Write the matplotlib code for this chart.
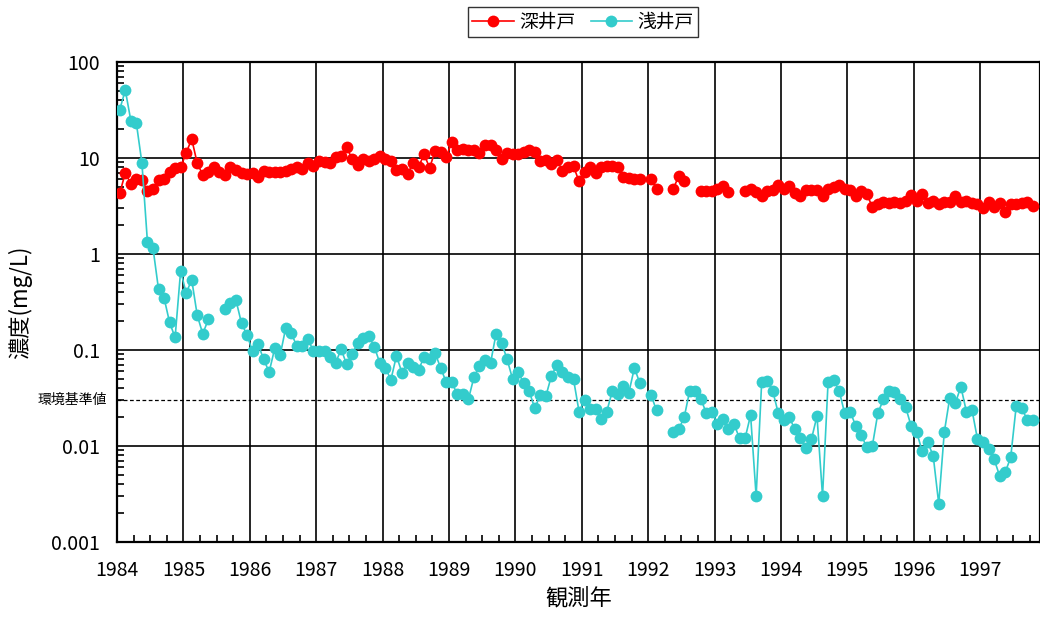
import numpy as np
import matplotlib
matplotlib.use("Agg")
import matplotlib.pyplot as plt
from matplotlib.ticker import FixedLocator, LogLocator, NullFormatter, FixedFormatter
import matplotlib.transforms as mtransforms

plt.rcParams['font.family'] = ['Noto Sans CJK JP', 'DejaVu Sans']

nan = np.nan
start_year = 1984  # monthly observations, mid-month

deep_well = [
    4.3, 7.0, 5.4, 6.1, 5.9, 4.5, 4.8, 5.9, 6.1, 7.2, 7.8, 8.0,
    11.3, 15.8, 8.8, 6.7, 7.2, 8.0, 7.2, 6.7, 8.0, 7.5, 6.9, 6.8,
    6.9, 6.4, 7.3, 7.1, 7.1, 7.1, 7.3, 7.6, 8.0, 7.6, 8.8, 8.3,
    9.3, 9.0, 8.8, 10.3, 10.5, 13.0, 9.7, 8.4, 9.7, 9.2, 9.7, 10.5,
    9.7, 9.2, 7.5, 7.7, 6.8, 8.8, 8.1, 10.9, 7.9, 11.9, 11.6, 10.3,
    14.6, 12.1, 12.4, 12.1, 12.1, 11.2, 13.6, 13.6, 12.1, 9.8, 11.2, 11.0,
    11.0, 11.6, 12.1, 11.6, 9.2, 9.5, 8.7, 9.5, 7.4, 8.1, 8.2, 5.7,
    7.2, 8.1, 6.9, 8.1, 8.2, 8.2, 8.0, 6.4, 6.2, 6.0, 6.0, nan,
    6.1, 4.8, nan, nan, 4.7, 6.5, 5.7, nan, nan, 4.5, 4.5, 4.5,
    4.8, 5.1, 4.4, nan, nan, 4.5, 4.8, 4.4, 4.0, 4.5, 4.6, 5.2,
    4.8, 5.1, 4.3, 4.0, 4.6, 4.6, 4.6, 4.0, 4.7, 5.0, 5.2, 4.8,
    4.6, 4.0, 4.5, 4.2, 3.1, 3.3, 3.5, 3.4, 3.5, 3.4, 3.6, 4.1,
    3.6, 4.2, 3.4, 3.6, 3.3, 3.5, 3.5, 4.0, 3.5, 3.6, 3.4, 3.3,
    3.0, 3.5, 3.1, 3.4, 2.75, 3.3, 3.3, 3.4, 3.5, 3.2,
]

shallow_well = [
    32, 51, 24.5, 23, 8.9, 1.34, 1.16, 0.43, 0.35, 0.194, 0.135, 0.67,
    0.39, 0.54, 0.23, 0.147, 0.209, nan, nan, 0.265, 0.306, 0.33, 0.19, 0.143,
    0.097, 0.115, 0.08, 0.059, 0.104, 0.089, 0.171, 0.149, 0.11, 0.11, 0.129, 0.098,
    0.097, 0.097, 0.085, 0.073, 0.102, 0.071, 0.09, 0.119, 0.132, 0.141, 0.108, 0.073,
    0.065, 0.049, 0.087, 0.058, 0.073, 0.066, 0.062, 0.085, 0.08, 0.092, 0.065, 0.046,
    0.046, 0.0346, 0.035, 0.0306, 0.052, 0.068, 0.079, 0.073, 0.147, 0.119, 0.08, 0.0496,
    0.059, 0.045, 0.037, 0.0247, 0.034, 0.033, 0.0536, 0.07, 0.059, 0.052, 0.0496, 0.0228,
    0.030, 0.024, 0.024, 0.019, 0.0228, 0.037, 0.035, 0.042, 0.036, 0.065, 0.045, nan,
    0.034, 0.0235, nan, nan, 0.014, 0.0149, 0.0199, 0.0377, 0.0377, 0.031, 0.022, 0.0228,
    0.017, 0.019, 0.0149, 0.017, 0.012, 0.012, 0.021, 0.003, 0.046, 0.048, 0.0377, 0.0219,
    0.0187, 0.0199, 0.0149, 0.012, 0.0095, 0.0118, 0.0205, 0.003, 0.046, 0.0487, 0.0377, 0.0219,
    0.0228, 0.0162, 0.013, 0.0097, 0.01, 0.022, 0.0306, 0.0377, 0.0368, 0.0306, 0.0257, 0.0162,
    0.014, 0.0089, 0.011, 0.0079, 0.0025, 0.0139, 0.032, 0.028, 0.0415, 0.0228, 0.0239, 0.0118,
    0.011, 0.0092, 0.0073, 0.0049, 0.0053, 0.0076, 0.026, 0.0248, 0.0187, 0.0187,
]

series_names = ['深井戸', '浅井戸']
year_ticks = list(range(1984, 1998))
y_ticks = [0.001, 0.01, 0.1, 1, 10, 100]
y_tick_labels = ['0.001', '0.01', '0.1', '1', '10', '100']
standard_value = 0.03
standard_label = '環境基準値'

dates_deep = start_year + (np.arange(len(deep_well)) + 0.5) / 12
dates_shallow = start_year + (np.arange(len(shallow_well)) + 0.5) / 12

fig = plt.figure(figsize=(10.4, 6.19), dpi=100)
ax = fig.add_axes([117 / 1040, 77 / 619, 923 / 1040, 480 / 619])

ax.set_yscale('log')
ax.set_ylim(0.001, 100)
ax.set_xlim(1984, 1997.9)

ax.grid(True, which='major', color='black', linewidth=1.2)
ax.set_axisbelow(True)

ax.plot(dates_deep, deep_well, color='#ff0000', marker='o', markersize=8.5,
        markeredgewidth=0, linewidth=1.2, label=series_names[0], zorder=3)
ax.plot(dates_shallow, shallow_well, color='#33cccc', marker='o', markersize=8.5,
        markeredgewidth=0, linewidth=1.2, label=series_names[1], zorder=3)

ax.axhline(standard_value, color='black', linestyle=(0, (3, 2)), linewidth=0.9, zorder=2)
trans = mtransforms.blended_transform_factory(ax.transAxes, ax.transData)
ax.text(-0.011, standard_value, standard_label, transform=trans, ha='right', va='center',
        fontsize=10)

ax.xaxis.set_major_locator(FixedLocator(year_ticks))
ax.xaxis.set_minor_locator(FixedLocator([y + q for y in year_ticks for q in (0.25, 0.5, 0.75)]))
ax.set_xticklabels([str(y) for y in year_ticks])
ax.yaxis.set_major_locator(FixedLocator(y_ticks))
ax.yaxis.set_major_formatter(FixedFormatter(y_tick_labels))
ax.yaxis.set_minor_locator(LogLocator(base=10, subs=np.arange(2, 10), numticks=20))
ax.yaxis.set_minor_formatter(NullFormatter())

ax.tick_params(which='both', direction='in', top=False, right=False, labelsize=14, width=1.2)
ax.tick_params(which='major', length=0)
ax.tick_params(axis='x', which='major', pad=13)
ax.tick_params(axis='y', which='major', pad=12)
ax.tick_params(which='minor', length=5)

for s in ax.spines.values():
    s.set_linewidth(1.6)
    s.set_color('black')

ax.set_xlabel('観測年', fontsize=16, labelpad=4)
ax.set_ylabel('濃度(mg/L)', fontsize=16, labelpad=4)
ax.yaxis.set_label_coords(-0.092, 0.5)

leg = ax.legend(loc='upper center', bbox_to_anchor=(0.505, 1.135), ncol=2, frameon=True,
                fancybox=False, edgecolor='black', fontsize=13.5, handlelength=2.2,
                handletextpad=0.3, columnspacing=0.8, borderpad=0.25)
leg.get_frame().set_linewidth(1.0)

fig.savefig('out.png', dpi=100)
